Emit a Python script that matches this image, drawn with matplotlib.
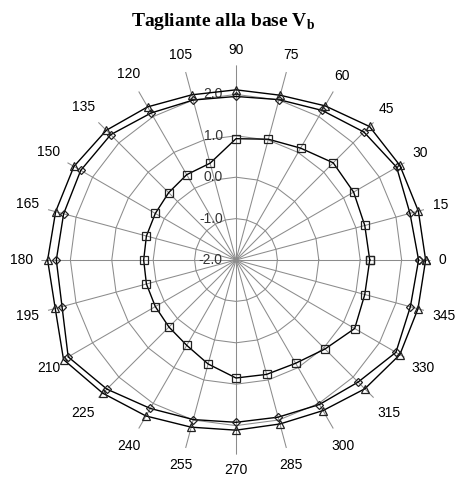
import numpy as np
import matplotlib
matplotlib.use("Agg")
import matplotlib.pyplot as plt

# ---------------- data ----------------
angles_deg = list(range(0, 360, 15))
angle_labels = [str(a) for a in angles_deg]
radial_ticks = [-2.0, -1.0, 0.0, 1.0, 2.0]
radial_labels = ["-2.0", "-1.0", "0.0", "1.0", "2.0"]

series_square = [1.23, 1.22, 1.28, 1.32, 1.12, 1.02, 0.93, 0.42, 0.38, 0.30, 0.25, 0.24,
                 0.23, 0.24, 0.25, 0.29, 0.38, 0.60, 0.85, 0.86, 0.88, 1.04, 1.31, 1.22]
series_diamond = [2.41, 2.35, 2.48, 2.37, 2.17, 2.01, 1.95, 2.00, 2.10, 2.28, 2.33, 2.31,
                  2.34, 2.35, 2.68, 2.41, 2.14, 1.99, 1.92, 1.93, 2.03, 2.17, 2.46, 2.36]
series_triangle = [2.58, 2.56, 2.57, 2.56, 2.30, 2.12, 2.11, 2.13, 2.27, 2.43, 2.52, 2.51,
                   2.55, 2.52, 2.81, 2.55, 2.35, 2.18, 2.11, 2.10, 2.20, 2.40, 2.57, 2.55]

r_min, r_max = -2.0, 2.7

# ---------------- figure ----------------
W, H = 457, 478
fig = plt.figure(figsize=(W / 100, H / 100), dpi=100)
cx, cy = 236, 260          # centre in pixels (from top)
R = 194.6                  # radius in pixels
ax = fig.add_axes([(cx - R) / W, (H - cy - R) / H, 2 * R / W, 2 * R / H], projection="polar")
ax.set_ylim(r_min, r_max)
ax.grid(False)
ax.set_xticks([])
ax.set_yticks([])
ax.spines["polar"].set_visible(False)
ax.patch.set_alpha(0)

theta = np.deg2rad(angles_deg)
theta_c = np.append(theta, theta[0])

gcol = "#8c8c8c"
# spokes
for t in theta:
    ax.plot([t, t], [r_min, r_max], color=gcol, lw=0.75, zorder=1)
# polygonal gridlines
for v in radial_ticks[1:]:
    ax.plot(theta_c, [v] * len(theta_c), color=gcol, lw=0.75, zorder=1)

# radial labels along the 90 deg spoke
for v, lab in zip(radial_ticks, radial_labels):
    ax.annotate(lab, xy=(np.pi / 2, v), xytext=(-9.5, 0), textcoords="offset points",
                ha="right", va="center", fontsize=10, family="Liberation Sans",
                color="#333333", zorder=2)

# angle labels
px_per_unit = R / (r_max - r_min)
for t, lab in zip(theta, angle_labels):
    hw = 3.8 * len(lab)
    d = 203 + hw * abs(np.cos(t)) + 7 * abs(np.sin(t))
    ax.text(t, r_min + d / px_per_unit, lab, ha="center", va="center",
            fontsize=10, family="Liberation Sans", color="black", clip_on=False)

def closed(vals):
    return np.append(vals, vals[0])

ax.plot(theta_c, closed(series_square), color="black", lw=1.0, marker="s", ms=5.5,
        mfc="none", mec="#222222", mew=0.9, clip_on=False, zorder=3)
ax.plot(theta_c, closed(series_diamond), color="black", lw=1.0, marker="D", ms=4.2,
        mfc="none", mec="#222222", mew=0.9, clip_on=False, zorder=3)
ax.plot(theta_c, closed(series_triangle), color="black", lw=1.0, marker="^", ms=6,
        mfc="none", mec="#222222", mew=0.9, clip_on=False, zorder=3)

plt.rcParams["mathtext.fontset"] = "custom"
plt.rcParams["mathtext.bf"] = "Liberation Serif:bold"
plt.rcParams["mathtext.rm"] = "Liberation Serif:bold"
fig.text(223 / W, 1 - 21 / H, r"Tagliante alla base V$_\mathbf{b}$", ha="center", va="center",
         fontsize=14, fontweight="bold", family="Liberation Serif")

fig.savefig("out.png", dpi=100, facecolor="white")
